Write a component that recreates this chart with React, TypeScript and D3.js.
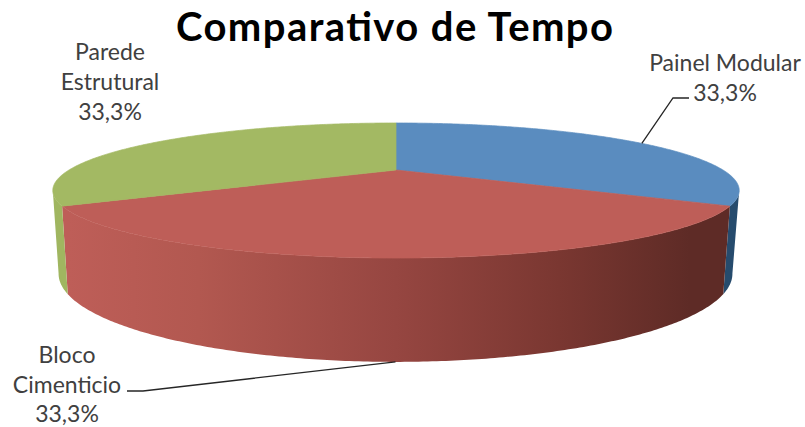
import * as d3 from "d3";

const categories = ["Painel Modular", "Bloco Cimenticio", "Parede Estrutural"];
const values = [33.3, 33.3, 33.3];
const percentLabels = ["33,3%", "33,3%", "33,3%"];
const topColors = ["#5A8CBF", "#BE5E58", "#A3B963"];
const sideColors = ["#264B6D", "url(#redSide)", "#A0B660"];

const WIDTH = 805;
const HEIGHT = 427;
const FONT = "Lato, 'Noto Sans', sans-serif";

// perspective ellipse for a ring: k is the foreshortening
const K = 0.3037;
const topRing = { cx: 396, cy: 170, a: 327, b: 61.3 };
const bottomRing = { cx: 395.5, cy: 247, a: 321, b: 80 };

type Ring = typeof topRing;

const project = (ring: Ring, angle: number): [number, number] => {
  const u = Math.sin(angle);
  const v = -Math.cos(angle);
  const w = 1 - K * v;
  return [ring.cx + (ring.a * u) / w, ring.cy + (ring.b * v) / w];
};

const arcPoints = (ring: Ring, start: number, end: number) => {
  const steps = Math.max(2, Math.ceil(Math.abs(end - start) / 0.01));
  return d3.range(steps + 1).map((i) => project(ring, start + ((end - start) * i) / steps));
};

const line = d3.line();
const pie = d3.pie<number>().sort(null).value((d) => d);
const slices = pie(values);

// part of the wall that faces the viewer
const wallStart = (107.5 * Math.PI) / 180;
const wallEnd = (252.5 * Math.PI) / 180;

const midAngle = (i: number) => (slices[i].startAngle + slices[i].endAngle) / 2;
const painelAnchor = project(topRing, midAngle(0));
const blocoAnchor = project(bottomRing, midAngle(1));

const leaders: [number, number][][] = [
  [painelAnchor, [673, 98], [689, 98]],
  [blocoAnchor, [143, 391], [127, 391]],
];

const labelBlocks = [
  { lines: [categories[0]], pct: percentLabels[0], x: 725, y: 71, gap: 30 },
  { lines: ["Bloco", "Cimenticio"], pct: percentLabels[1], x: 67, y: 363, gap: 29.5 },
  { lines: ["Parede", "Estrutural"], pct: percentLabels[2], x: 110, y: 60, gap: 30 },
];

export default function App() {
  return (
    <svg
      width={WIDTH}
      height={HEIGHT}
      viewBox={`0 0 ${WIDTH} ${HEIGHT}`}
      style={{ position: "absolute", left: 0, top: 0, background: "#fff" }}
    >
      <defs>
        <linearGradient id="redSide" gradientUnits="userSpaceOnUse" x1={68} x2={723} y1={0} y2={0}>
          <stop offset="0" stopColor="#BE5E58" />
          <stop offset="0.2" stopColor="#B25850" />
          <stop offset="0.5" stopColor="#964641" />
          <stop offset="0.75" stopColor="#7A3731" />
          <stop offset="0.95" stopColor="#5E2B26" />
          <stop offset="1" stopColor="#5E2B26" />
        </linearGradient>
      </defs>

      {slices.map((s, i) => {
        const start = Math.max(s.startAngle, wallStart);
        const end = Math.min(s.endAngle, wallEnd);
        if (end <= start) return null;
        const pts = [...arcPoints(topRing, start, end), ...arcPoints(bottomRing, end, start)];
        return <path key={i} d={line(pts) + "Z"} fill={sideColors[i]} />;
      })}

      {slices.map((s, i) => {
        const pts: [number, number][] = [
          [topRing.cx, topRing.cy],
          ...arcPoints(topRing, s.startAngle, s.endAngle),
        ];
        return (
          <path
            key={i}
            d={line(pts) + "Z"}
            fill={topColors[i]}
            stroke={topColors[i]}
            strokeWidth={0.7}
            strokeLinejoin="round"
          />
        );
      })}

      {leaders.map((pts, i) => (
        <path key={i} d={line(pts) ?? ""} fill="none" stroke="#262626" strokeWidth={1.3} />
      ))}

      <text
        x={394.5}
        y={41}
        textAnchor="middle"
        fontFamily={FONT}
        fontWeight={700}
        fontSize={40}
        textLength={437}
        lengthAdjust="spacing"
        fill="#000"
      >
        Comparativo de Tempo
      </text>

      {labelBlocks.map((b, i) => (
        <text key={i} textAnchor="middle" fontFamily={FONT} fontSize={23} fill="#404040">
          {[...b.lines, b.pct].map((t, j) => (
            <tspan key={j} x={b.x} y={b.y + j * b.gap}>
              {t}
            </tspan>
          ))}
        </text>
      ))}
    </svg>
  );
}
